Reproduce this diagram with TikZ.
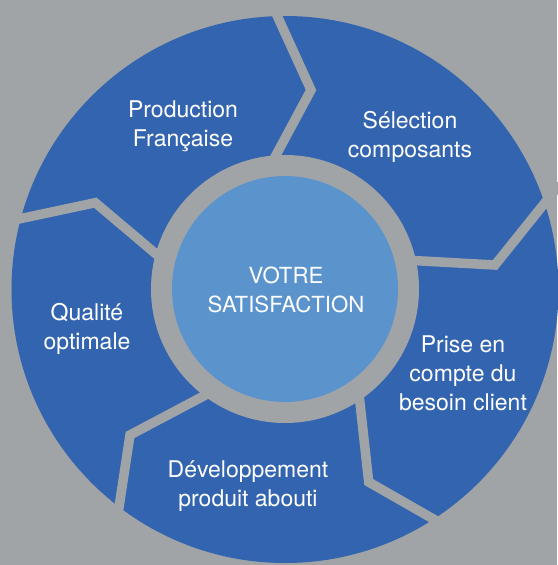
\documentclass[tikz,border=0pt]{standalone}
\usepackage{fontspec}
\setmainfont{TeX Gyre Heros}
\definecolor{bggray}{RGB}{160,164,167}
\definecolor{segblue}{RGB}{51,100,175}
\definecolor{coreblue}{RGB}{91,147,205}
\begin{document}
\begin{tikzpicture}[x=1pt,y=-1pt,
  sep/.style={draw=bggray, line width=9.5pt, line join=miter, miter limit=20},
  lbl/.style={text=white, align=center, inner sep=0pt, font=\fontsize{23}{29}\selectfont},
  corelbl/.style={lbl, font=\fontsize{22.2}{28.5}\selectfont}]
\useasboundingbox (0,0) rectangle (557,565);
\fill[bggray] (0,0) rectangle (557,565);
\fill[segblue] (285,289.5) circle[radius=273.5];
% separators
\draw[sep] (270,0) -- (311,90) -- (268,170);
\draw[sep] (560,184) -- (495,265) -- (395,259.5);
\draw[sep] (358,385) -- (368.7,482) -- (470,540);
\draw[sep] (215,390) -- (130,435) -- (114,540);
\draw[sep] (0,223) -- (95.3,202.7) -- (172,267.5);
% centre
\fill[bggray] (285,289) circle[radius=134];
\fill[coreblue] (285,289) circle[radius=113];
% labels
\node[corelbl] (core) at (286,290) {VOTRE\\SATISFACTION};
\node[lbl] (prod) at (183,126) {Production\\Française};
\node[lbl] (sel) at (410,137) {Sélection\\composants};
\node[lbl] (prise) at (463,373) {Prise en\\compte du\\besoin client};
\node[lbl] (dev) at (248,486) {Développement\\produit abouti};
\node[lbl] (qual) at (87,329) {Qualité\\optimale};
\end{tikzpicture}
\end{document}
